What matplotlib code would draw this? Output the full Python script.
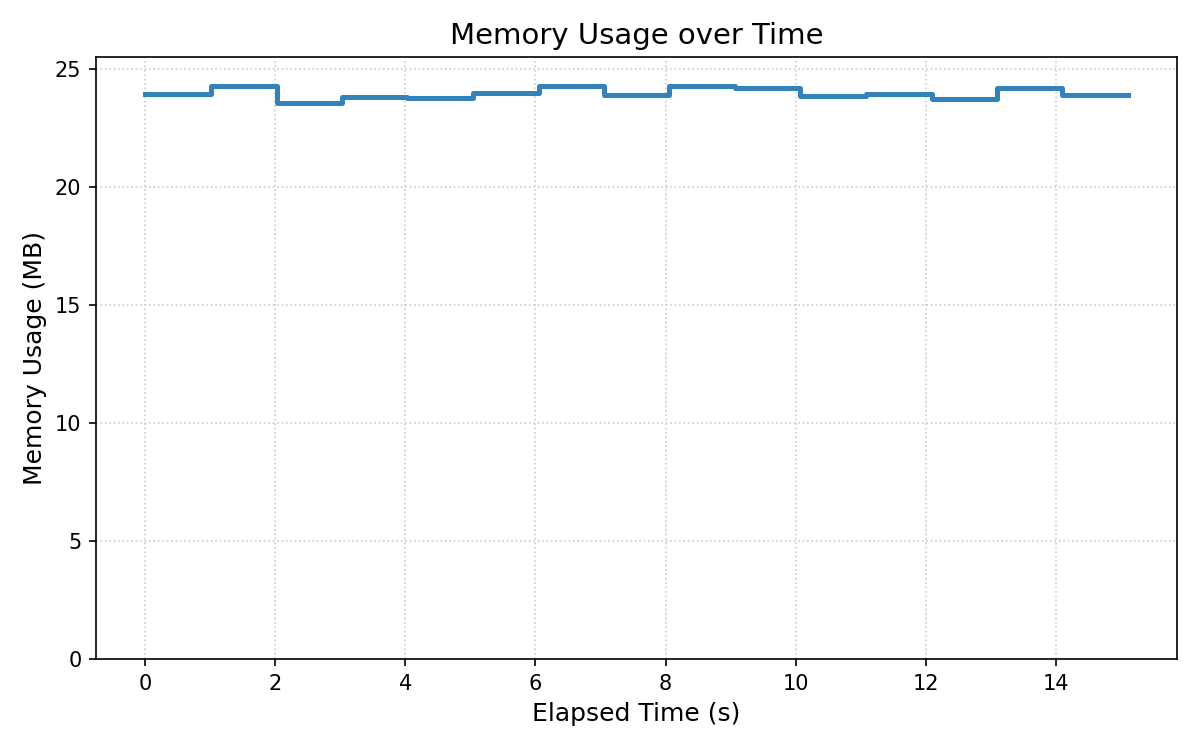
import matplotlib
matplotlib.use("Agg")
import matplotlib.pyplot as plt

# elapsed time (s) and memory samples (MB)
elapsed = [0.0, 1.01, 2.02, 3.03, 4.03, 5.04, 6.05, 7.05, 8.06, 9.07,
           10.07, 11.08, 12.09, 13.09, 14.10, 15.11]
memory_mb = [23.95, 24.27, 23.57, 23.83, 23.78, 24.00, 24.29, 23.88, 24.29, 24.21,
             23.87, 23.95, 23.74, 24.20, 23.91, 23.91]

fig, ax = plt.subplots(figsize=(8, 5), dpi=150)
ax.step(elapsed, memory_mb, where="post", color="#3182bd", linewidth=2.4)

ax.set_ylim(0, max(memory_mb) * 1.05)
ax.set_title("Memory Usage over Time", fontsize=14)
ax.set_xlabel("Elapsed Time (s)", fontsize=12)
ax.set_ylabel("Memory Usage (MB)", fontsize=12)
ax.tick_params(labelsize=10)
ax.grid(True, linestyle=":", color="#cccccc", linewidth=0.8)

plt.subplots_adjust(left=0.08, right=0.981, top=0.924, bottom=0.121)
plt.savefig("out.png")
